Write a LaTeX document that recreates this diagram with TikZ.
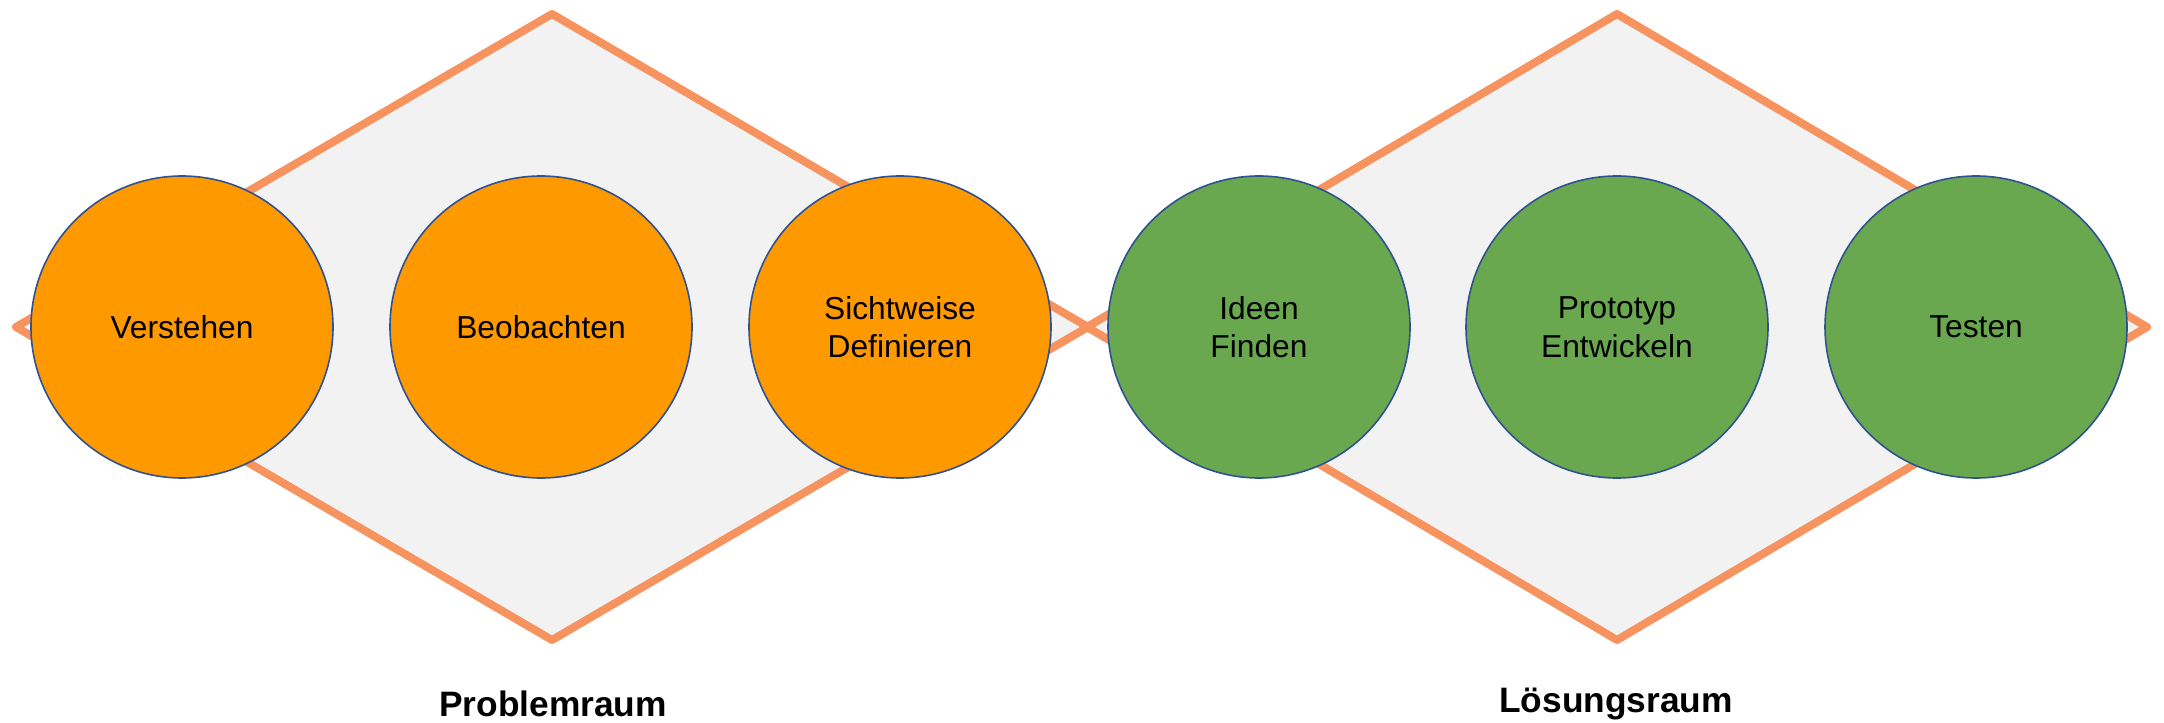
\documentclass[tikz,border=0pt]{standalone}
\usepackage{fontspec}
\setmainfont{Liberation Sans}
\usepackage{tikz}

\definecolor{raumrand}{HTML}{F7935F}
\definecolor{raumfill}{HTML}{F2F2F2}
\definecolor{phaseorange}{HTML}{FF9900}
\definecolor{phasegreen}{HTML}{6AA84F}
\definecolor{phaserand}{HTML}{2F5290}

\begin{document}
\begin{tikzpicture}[x=0.75pt,y=0.75pt,yscale=-1,xscale=1,
  raum/.style={draw=raumrand,fill=raumfill,line width=6pt,line join=round},
  phase/.style={circle,draw=phaserand,line width=1.2pt,minimum size=226.5pt,inner sep=0pt,
    align=center,font=\fontsize{23.8}{29}\selectfont},
  problem/.style={phase,fill=phaseorange},
  loesung/.style={phase,fill=phasegreen},
  raumname/.style={font=\fontsize{26.5}{30}\selectfont\bfseries}]
\useasboundingbox (0,0) rectangle (2164,723);

%Diamonds
\draw[raum] (16,327) -- (552,14) -- (1088,327) -- (552,640) -- cycle;
\draw[raum] (1087,327) -- (1617,14) -- (2147,327) -- (1617,640) -- cycle;

%Phases
\node[problem] (verstehen) at (182,327) {Verstehen};
\node[problem] (beobachten) at (541,327) {Beobachten};
\node[problem] (sichtweise) at (900,327) {Sichtweise\\Definieren};
\node[loesung] (ideen) at (1259,327) {Ideen\\Finden};
\node[loesung] (prototyp) at (1617,327) {Prototyp\\Entwickeln};
\node[loesung] (testen) at (1976,327) {Testen};

%Labels
\node[raumname] (problemraum) at (553,704) {Problemraum};
\node[raumname] (loesungsraum) at (1616,704) {Lösungsraum};

\end{tikzpicture}
\end{document}
